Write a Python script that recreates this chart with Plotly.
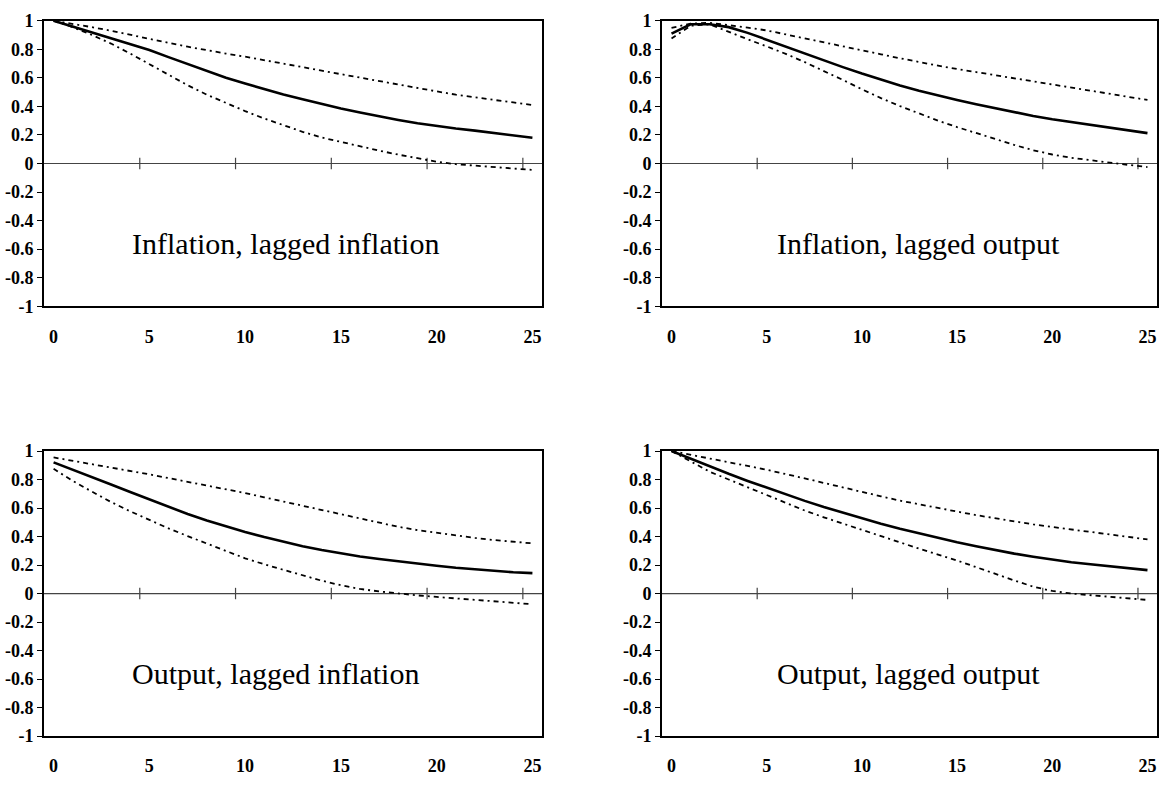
import plotly.graph_objects as go

lags = list(range(26))

# Panel 1: Inflation, lagged inflation
p1_mid = [1.0, 0.96, 0.92, 0.88, 0.84, 0.795, 0.745, 0.695, 0.645, 0.60, 0.56, 0.52, 0.483,
          0.45, 0.415, 0.385, 0.357, 0.33, 0.305, 0.282, 0.262, 0.245, 0.23, 0.215, 0.198, 0.18]
p1_up = [1.0, 0.98, 0.955, 0.93, 0.90, 0.872, 0.845, 0.818, 0.792, 0.77, 0.748, 0.725, 0.70,
         0.675, 0.65, 0.625, 0.60, 0.575, 0.552, 0.53, 0.505, 0.482, 0.462, 0.445, 0.428, 0.41]
p1_lo = [1.0, 0.955, 0.90, 0.84, 0.77, 0.695, 0.62, 0.548, 0.482, 0.422, 0.367, 0.315, 0.267,
         0.222, 0.182, 0.15, 0.12, 0.09, 0.062, 0.036, 0.012, -0.005, -0.015, -0.025, -0.035, -0.045]

# Panel 2: Inflation, lagged output
p2_mid = [0.91, 0.975, 0.975, 0.955, 0.915, 0.866, 0.818, 0.77, 0.72, 0.675, 0.63, 0.587, 0.547,
          0.51, 0.476, 0.445, 0.415, 0.386, 0.358, 0.333, 0.31, 0.29, 0.27, 0.25, 0.232, 0.213]
p2_up = [0.95, 0.98, 0.985, 0.97, 0.952, 0.932, 0.905, 0.877, 0.85, 0.822, 0.795, 0.765, 0.737,
         0.71, 0.685, 0.662, 0.64, 0.62, 0.598, 0.575, 0.552, 0.53, 0.507, 0.485, 0.465, 0.445]
p2_lo = [0.875, 0.965, 0.975, 0.92, 0.87, 0.82, 0.768, 0.71, 0.65, 0.585, 0.52, 0.458, 0.402,
         0.35, 0.30, 0.255, 0.213, 0.17, 0.13, 0.093, 0.063, 0.04, 0.022, 0.005, -0.01, -0.025]

# Panel 3: Output, lagged inflation
p3_mid = [0.92, 0.87, 0.82, 0.765, 0.712, 0.66, 0.607, 0.558, 0.512, 0.47, 0.432, 0.396, 0.362,
          0.332, 0.305, 0.28, 0.26, 0.242, 0.225, 0.21, 0.195, 0.181, 0.169, 0.158, 0.149, 0.143]
p3_up = [0.955, 0.932, 0.91, 0.886, 0.861, 0.836, 0.81, 0.785, 0.76, 0.733, 0.705, 0.675, 0.645,
         0.615, 0.585, 0.555, 0.525, 0.495, 0.468, 0.445, 0.425, 0.408, 0.39, 0.375, 0.362, 0.352]
p3_lo = [0.875, 0.79, 0.715, 0.642, 0.577, 0.515, 0.457, 0.403, 0.35, 0.296, 0.247, 0.205, 0.165,
         0.127, 0.09, 0.058, 0.032, 0.015, 0.0, -0.013, -0.024, -0.035, -0.045, -0.055, -0.065, -0.075]

# Panel 4: Output, lagged output
p4_mid = [1.0, 0.945, 0.89, 0.84, 0.79, 0.742, 0.695, 0.65, 0.607, 0.567, 0.528, 0.49, 0.455,
          0.422, 0.39, 0.36, 0.332, 0.305, 0.28, 0.258, 0.238, 0.22, 0.205, 0.19, 0.177, 0.164]
p4_up = [1.0, 0.975, 0.95, 0.922, 0.895, 0.868, 0.84, 0.808, 0.776, 0.743, 0.712, 0.682, 0.652,
         0.625, 0.60, 0.575, 0.55, 0.527, 0.505, 0.485, 0.467, 0.45, 0.432, 0.414, 0.397, 0.38]
p4_lo = [1.0, 0.93, 0.855, 0.80, 0.745, 0.69, 0.635, 0.582, 0.535, 0.49, 0.445, 0.40, 0.357,
         0.315, 0.273, 0.232, 0.185, 0.137, 0.092, 0.048, 0.018, 0.0, -0.012, -0.025, -0.035, -0.045]

titles = ["Inflation, lagged inflation", "Inflation, lagged output",
          "Output, lagged inflation", "Output, lagged output"]

y_ticks = [1, 0.8, 0.6, 0.4, 0.2, 0, -0.2, -0.4, -0.6, -0.8, -1]
y_labels = ["1", "0.8", "0.6", "0.4", "0.2", "0", "-0.2", "-0.4", "-0.6", "-0.8", "-1"]
x_ticks = [0, 5, 10, 15, 20, 25]
x_labels = ["0", "5", "10", "15", "20", "25"]
x_marks = [4.5, 9.5, 14.5, 19.5, 24.5]

W, H = 1164, 787
panels = [
    (p1_mid, p1_up, p1_lo, (44, 542), (11, 304), 130),
    (p2_mid, p2_up, p2_lo, (662, 1157), (11, 304), 775),
    (p3_mid, p3_up, p3_lo, (44, 542), (452.5, 745), 130),
    (p4_mid, p4_up, p4_lo, (662, 1157), (452.5, 745), 775),
]

fig = go.Figure()
layout = dict(width=W, height=H, margin=dict(l=0, r=0, t=0, b=0),
              paper_bgcolor="white", plot_bgcolor="white", showlegend=False)
shapes = []
annotations = []
band_dash = "5px,4px,2px,4px"
tickfont = dict(family="Liberation Serif", size=18, color="black", weight="bold")

for i, (mid, up, lo, (xl, xr), (yt, yb), tx) in enumerate(panels):
    n = "" if i == 0 else str(i + 1)
    xa, ya = "x" + n, "y" + n
    for series, style in ((up, dict(width=1.8, dash=band_dash)),
                          (lo, dict(width=1.8, dash=band_dash)),
                          (mid, dict(width=2.6))):
        fig.add_trace(go.Scatter(x=lags, y=series, mode="lines", xaxis=xa, yaxis=ya,
                                 line=dict(color="black", **style), hoverinfo="skip"))
    layout["xaxis" + n] = dict(domain=[xl / W, xr / W], range=[-0.5, 25.5], anchor=ya,
                               tickvals=x_ticks, ticktext=x_labels, ticks="", ticklen=0,
                               ticklabelstandoff=13, showgrid=False, zeroline=False,
                               showline=True, linecolor="black", linewidth=1.5, mirror=True,
                               tickfont=tickfont, fixedrange=True)
    layout["yaxis" + n] = dict(domain=[1 - yb / H, 1 - yt / H], range=[-1, 1], anchor=xa,
                               tickvals=y_ticks, ticktext=y_labels, ticks="outside", ticklen=5,
                               tickcolor="black", showgrid=False, zeroline=False,
                               showline=True, linecolor="black", linewidth=1.8, mirror=True,
                               tickfont=tickfont, fixedrange=True)
    shapes.append(dict(type="line", xref=xa, yref=ya, x0=-0.5, x1=25.5, y0=0, y1=0,
                       line=dict(color="#444444", width=1.2), layer="below"))
    for m in x_marks:
        shapes.append(dict(type="line", xref=xa, yref=ya, x0=m, x1=m, y0=-0.04, y1=0.04,
                           line=dict(color="#444444", width=1.2), layer="below"))
    annotations.append(dict(text=titles[i], xref=xa + " domain", yref=ya,
                            x=(tx - xl) / (xr - xl), y=-0.56, xanchor="left", yanchor="middle",
                            showarrow=False,
                            font=dict(family="Liberation Serif", size=30, color="black")))

layout["shapes"] = shapes
layout["annotations"] = annotations
fig.update_layout(**layout)
fig.write_html("out.html")
